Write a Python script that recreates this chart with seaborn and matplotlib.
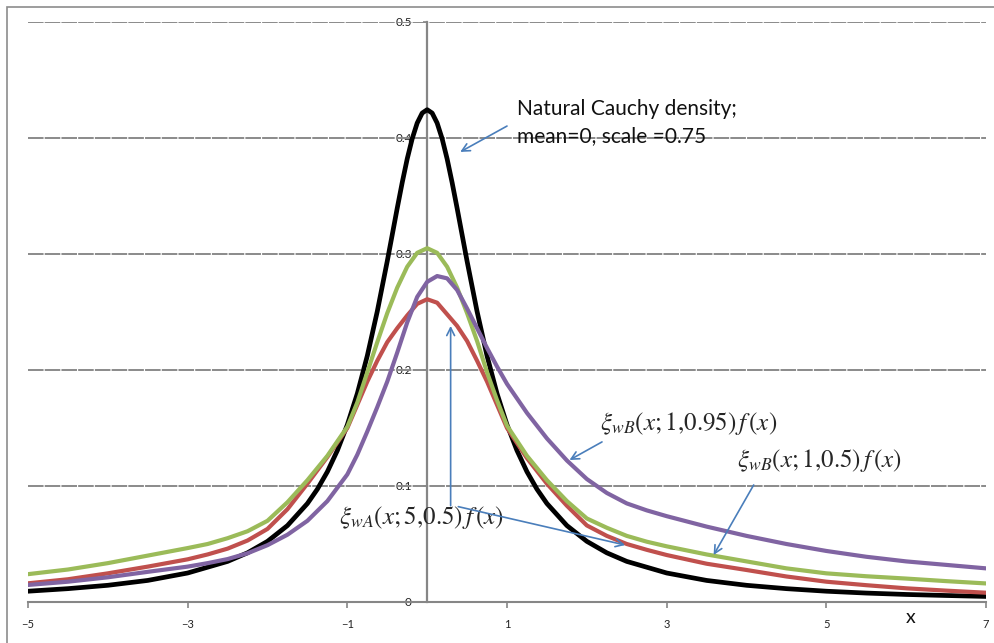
import numpy as np
import pandas as pd
import matplotlib
matplotlib.use('Agg')
import matplotlib.pyplot as plt
from matplotlib.patches import Rectangle
import seaborn as sns

# values
# natural Cauchy density (black), finer steps near the sharp peak
x_cauchy = [-5, -4.5, -4, -3.5, -3, -2.5, -2.25, -2, -1.75, -1.5, -1.375, -1.25, -1.125, -1, -0.875,
            -0.75, -0.625, -0.5, -0.4375, -0.375, -0.3125, -0.25, -0.1875, -0.125, -0.0625, 0,
            0.0625, 0.125, 0.1875, 0.25, 0.3125, 0.375, 0.4375, 0.5, 0.625, 0.75, 0.875, 1,
            1.125, 1.25, 1.375, 1.5, 1.75, 2, 2.25, 2.5, 3, 3.5, 4, 4.5, 5, 5.5, 6, 6.5, 7]
y_cauchy = [.0093, .0115, .0144, .0186, .0250, .0350, .0424, .0523, .0659, .0849, .0973, .1123, .1306, .1528, .1797,
            .2122, .2505, .2938, .3166, .3395, .3616, .3820, .3994, .4129, .4215, .4244,
            .4215, .4129, .3994, .3820, .3616, .3395, .3166, .2938, .2505, .2122, .1797, .1528,
            .1306, .1123, .0973, .0849, .0659, .0523, .0424, .0350, .0250, .0186, .0144, .0115, .0093, .0077, .0065, .0056, .0048]

# weighted densities share one x grid
x_w = [-5, -4.5, -4, -3.5, -3, -2.75, -2.5, -2.25, -2, -1.75, -1.5, -1.25, -1, -0.875, -0.75, -0.625,
       -0.5, -0.375, -0.25, -0.125, 0, 0.125, 0.25, 0.375, 0.5, 0.625, 0.75, 0.875,
       1, 1.25, 1.5, 1.75, 2, 2.25, 2.5, 2.75, 3, 3.5, 4, 4.5, 5, 5.5, 6, 6.5, 7]

y_wA_5_05 = [.0161, .0196, .0247, .0305, .0368, .041, .046, .053, .063, .080, .102, .125, .150, .170, .190, .208,
             .224, .236, .247, .257, .261, .258, .248, .238, .225, .208, .190, .170,
             .150, .124, .102, .083, .066, .057, .050, .045, .0405, .033, .0276, .022, .0175, .0145, .0118, .0098, .008]

y_wB_1_05 = [.024, .028, .0335, .040, .0465, .050, .055, .061, .070, .086, .105, .126, .151, .172, .198, .224,
             .249, .271, .289, .301, .305, .301, .289, .271, .249, .225, .198, .174,
             .152, .126, .105, .087, .072, .064, .057, .052, .048, .041, .035, .029, .0247, .0222, .0202, .018, .016]

y_wB_1_095 = [.0147, .0175, .0213, .026, .0305, .0335, .037, .042, .049, .058, .070, .087, .110, .127, .147, .168,
              .190, .215, .241, .263, .276, .281, .279, .269, .253, .236, .219, .203,
              .188, .163, .141, .122, .106, .094, .085, .079, .074, .065, .057, .050, .044, .039, .035, .032, .029]

curves = [('cauchy', x_cauchy, y_cauchy, '#000000', 3.4),
          ('wA_5_05', x_w, y_wA_5_05, '#C0504D', 3.0),
          ('wB_1_05', x_w, y_wB_1_05, '#9BBB59', 3.0),
          ('wB_1_095', x_w, y_wB_1_095, '#8064A2', 3.0)]

sns.set_theme(style='white')
plt.rcParams['font.family'] = ['Lato', 'DejaVu Sans']
plt.rcParams['mathtext.fontset'] = 'stix'

fig = plt.figure(figsize=(9.95, 6.43), dpi=100)
ax = fig.add_axes([28 / 995, 1 - 602 / 643, 958 / 995, 580 / 643])

# outer chart border
fig.patches.append(Rectangle((7 / 995, -0.1), 1.2, 1.1 - 7 / 643, transform=fig.transFigure,
                             fill=False, edgecolor='#8c8c8c', linewidth=1.2))

for y in [0.1, 0.2, 0.3, 0.4, 0.5]:
    ax.axhline(y, color='#8a8a8a', linewidth=1.4, linestyle=(0, (8, 0.6)), zorder=1)

for name, xs, ys, col, lw in curves:
    df = pd.DataFrame({'x': xs, 'density': ys})
    sns.lineplot(data=df, x='x', y='density', color=col, ax=ax, linewidth=lw, zorder=3)

ax.set_xlim(-5, 7)
ax.set_ylim(0, 0.5)
ax.set_xticks([-5, -3, -1, 1, 3, 5, 7])
ax.set_yticks([0, 0.1, 0.2, 0.3, 0.4, 0.5])
ax.set_yticklabels(['0', '0.1', '0.2', '0.3', '0.4', '0.5'])

for s in ['top', 'right']:
    ax.spines[s].set_visible(False)
ax.spines['left'].set_position(('data', 0))
ax.spines['left'].set_color('#868686')
ax.spines['left'].set_linewidth(1.6)
ax.spines['left'].set_zorder(2)
ax.spines['bottom'].set_color('#868686')
ax.spines['bottom'].set_linewidth(1.5)

ax.tick_params(axis='x', direction='out', length=4, width=1.2, color='#868686',
               pad=8, labelsize=8, labelcolor='#222222', bottom=True)
ax.tick_params(axis='y', direction='out', length=3, width=1.2, color='#868686',
               pad=8, labelsize=8.5, labelcolor='#222222', left=True)

ax.set_ylabel('')
ax.set_xlabel('x', fontsize=14, color='#111111')
ax.xaxis.set_label_coords((911 - 28) / 958, -0.012)

arrow = dict(arrowstyle='->', color='#4A7EBB', lw=1.2, shrinkA=0, shrinkB=0,
             mutation_scale=14)

ax.text(1.12, 0.413, 'Natural Cauchy density;\nmean=0, scale =0.75', fontsize=15,
        ha='left', va='center', color='#111111', linespacing=1.45)
ax.annotate('', xy=(0.414, 0.388), xytext=(1.0, 0.4103), arrowprops=arrow)

mfs = 18
ax.text(2.17, 0.154, r'$\xi_{wB}(x;1{,}0.95)\,f\,(x)$', fontsize=mfs, ha='left', va='center')
ax.annotate('', xy=(1.783, 0.1224), xytext=(2.19, 0.138), arrowprops=arrow)

ax.text(3.88, 0.122, r'$\xi_{wB}(x;1{,}0.5)\,f\,(x)$', fontsize=mfs, ha='left', va='center')
ax.annotate('', xy=(3.588, 0.0405), xytext=(4.09, 0.1009), arrowprops=arrow)

ax.text(-1.11, 0.0725, r'$\xi_{wA}(x;5{,}0.5)\,f\,(x)$', fontsize=mfs, ha='left', va='center')
ax.annotate('', xy=(0.294, 0.238), xytext=(0.294, 0.083), arrowprops=arrow)
ax.annotate('', xy=(2.48, 0.0491), xytext=(0.39, 0.0822), arrowprops=arrow)

fig.savefig('out.png', dpi=100)
